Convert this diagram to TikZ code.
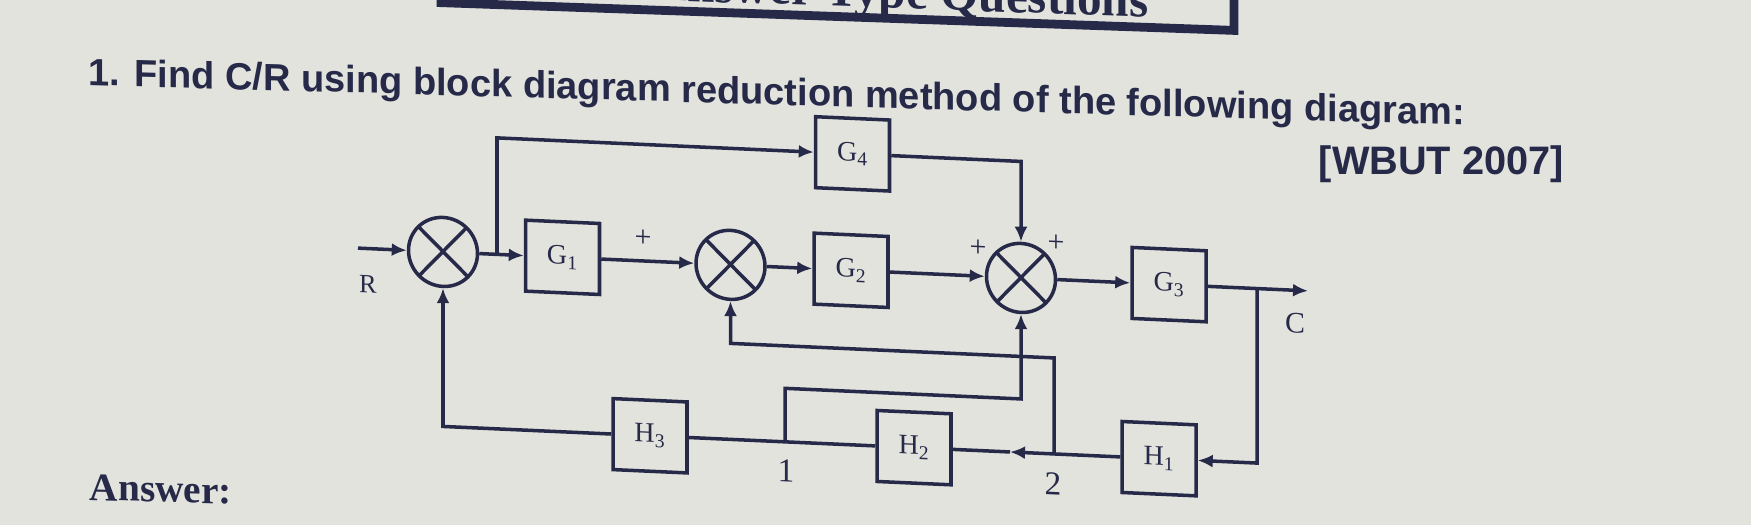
\documentclass[tikz,border=0pt]{standalone}
\usepackage{graphicx}
\usepackage{fontspec}
\setmainfont{Liberation Serif}
\newfontfamily\sansf{Liberation Sans}
\usetikzlibrary{arrows.meta}
\definecolor{ink}{RGB}{38,41,72}
\definecolor{paper}{RGB}{226,227,221}
\begin{document}
\begin{tikzpicture}[x=0.02cm, y=-0.02cm, line width=2pt, color=ink,
  blk/.style={draw, rectangle, minimum width=1.48cm, minimum height=1.42cm, inner sep=0pt, font=\fontsize{16}{18}\selectfont},
  sumj/.style={draw, circle, minimum size=1.38cm, inner sep=0pt,
    path picture={\draw[line width=2pt] (path picture bounding box.north west) -- (path picture bounding box.south east)
      (path picture bounding box.north east) -- (path picture bounding box.south west);}},
  arr/.style={-{Latex[length=0.3cm,width=0.26cm]}},
  lbl/.style={font=\fontsize{#1}{#1}\selectfont, inner sep=0pt}]
\fill[paper] (0,0) rectangle (1751,525);
\useasboundingbox (0,0) rectangle (1751,525);
\clip (0,0) rectangle (1751,525);

% heading box (cut by the top edge of the photo)
\begin{scope}[yslant=-0.035, transform shape]
  \draw[line width=5pt] (441,-80) |- (1234,-12.8) -- (1234,-80);
  \node[anchor=base east, inner sep=0pt, font=\fontsize{28}{30}\selectfont\bfseries] (hdr) at (1150,-23) {Short Answer Type Questions};
\end{scope}

% title and answer (photo tilt)
\begin{scope}[yslant=-0.029, transform shape]
  \node[anchor=base west, inner sep=0pt] (title) at (87,82.5)
    {\resizebox{27.52cm}{!}{\sansf\bfseries 1. Find C/R using block diagram reduction method of the following diagram:}};
  \node[anchor=base west, inner sep=0pt] (ans) at (88,497.4) {\resizebox{2.84cm}{!}{\bfseries Answer:}};
\end{scope}
\node[anchor=base west, inner sep=0pt] (wbut) at (1317,174) {\resizebox{4.9cm}{!}{\sansf\bfseries [WBUT 2007]}};

% block diagram (photo tilt)
\begin{scope}[yslant=-0.045, transform shape]
  \node[sumj] (s1) at (443,232) {};
  \node[blk] (g1) at (562.5,232) {G\textsubscript{1}};
  \node[sumj] (s2) at (730.5,232) {};
  \node[blk] (g2) at (851,232) {G\textsubscript{2}};
  \node[sumj] (s3) at (1021,232) {};
  \node[blk] (g3) at (1169,232) {G\textsubscript{3}};
  \node[blk] (g4) at (852.5,115.5) {G\textsubscript{4}};
  \node[blk] (h3) at (650,406.5) {H\textsubscript{3}};
  \node[blk] (h2) at (914,406.5) {H\textsubscript{2}};
  \node[blk] (h1) at (1159,406.5) {H\textsubscript{1}};
  \coordinate (rin) at (358,232);
  \coordinate (b1) at (497,232);
  \coordinate (b2) at (1257,232);
  \coordinate (cout) at (1308,232);
  \coordinate (j1) at (785,406.5);
  \coordinate (j2) at (1054,406.5);
  \coordinate (a2) at (1010,406.5);

  \node[lbl=15] (lR) at (368,268) {R};
  \node[lbl=17] (lp1) at (643,210) {+};
  \node[lbl=17] (lp2) at (978,204) {+};
  \node[lbl=17] (lp3) at (1056,196) {+};
  \node[lbl=17] (lC) at (1295,265) {C};
  \node[lbl=19] (l1) at (786,435) {1};
  \node[lbl=19] (l2) at (1053,436) {2};

  \draw[arr] (rin) -- (s1.west);
  \draw[arr] (s1.east) -- (g1.west);
  \draw[arr] (b1) |- (g4.west);
  \draw[arr] (g1.east) -- (s2.west);
  \draw[arr] (s2.east) -- (g2.west);
  \draw[arr] (g2.east) -- (s3.west);
  \draw[arr] (g4.east) -| (s3.north);
  \draw[arr] (s3.east) -- (g3.west);
  \draw[arr] (g3.east) -- (cout);
  \draw[arr] (b2) |- (h1.east);
  \draw[arr] (h1.west) -- (a2);
  \draw (a2) -- (h2.east);
  \draw (h2.west) -- (h3.east);
  \draw[arr] (h3.west) -| (s1.south);
  \draw[arr] (j1) -- ++(0,-53.5) -| (s3.south);
  \draw[arr] (j2) -- ++(0,-96) -| (s2.south);
\end{scope}
\end{tikzpicture}
\end{document}
